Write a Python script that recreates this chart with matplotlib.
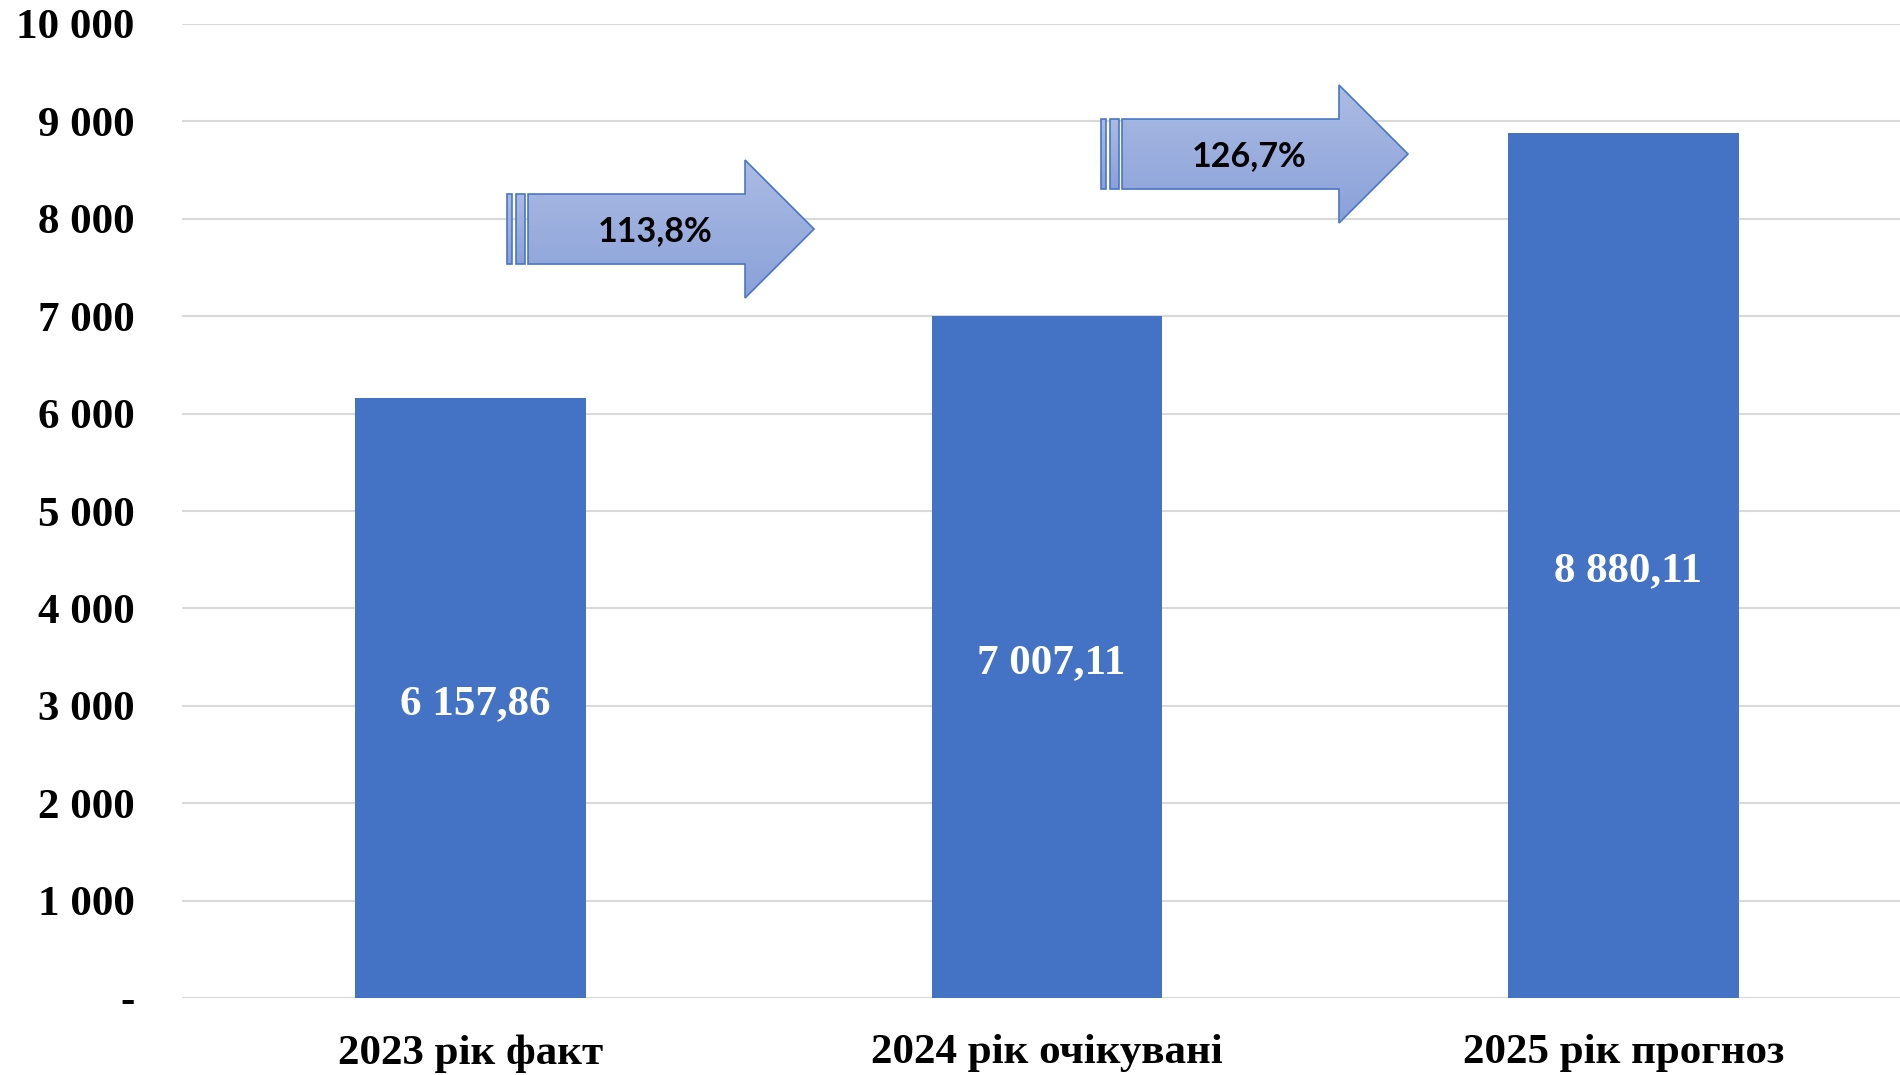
import matplotlib
matplotlib.use("Agg")
import matplotlib.pyplot as plt
import numpy as np
from matplotlib.patches import Polygon, Rectangle
from matplotlib.colors import LinearSegmentedColormap

categories = ["2023 рік факт", "2024 рік очікувані", "2025 рік прогноз"]
values = [6157.86, 7007.11, 8880.11]
value_labels = ["6 157,86", "7 007,11", "8 880,11"]
growth_labels = ["113,8%", "126,7%"]
# arrow tip positions in data coords (x, y)
arrow_tips = [(0.596, 7895), (1.626, 8665)]
yticks = [0, 1000, 2000, 3000, 4000, 5000, 6000, 7000, 8000, 9000, 10000]
ytick_labels = ["-", "1 000", "2 000", "3 000", "4 000", "5 000", "6 000",
                "7 000", "8 000", "9 000", "10 000"]

W, H = 1900, 1075
fig = plt.figure(figsize=(W / 100, H / 100), dpi=100)
ax_l, ax_r, ax_b, ax_t = 182, 1912, 998, 24
ax = fig.add_axes([ax_l / W, (H - ax_b) / H, (ax_r - ax_l) / W, (ax_b - ax_t) / H])

bar_color = "#4472C4"
x = np.arange(len(categories))
ax.bar(x, values, width=0.4, color=bar_color, zorder=2)
ax.set_xlim(-0.5, 2.5)
ax.set_ylim(0, 10000)

ax.set_yticks(yticks)
ax.set_yticklabels(ytick_labels)
ax.set_xticks(x)
ax.set_xticklabels(categories)
serif = "Liberation Serif"
FS = 31
for lbl in ax.get_yticklabels():
    lbl.set_fontfamily(serif); lbl.set_fontweight("bold"); lbl.set_fontsize(FS)
for lbl in ax.get_xticklabels():
    lbl.set_fontfamily(serif); lbl.set_fontweight("bold"); lbl.set_fontsize(FS)
ax.tick_params(axis="y", length=0, pad=34)
ax.tick_params(axis="x", length=0, pad=26)
ax.grid(axis="y", color="#d9d9d9", linewidth=1.5, zorder=0)
ax.set_axisbelow(True)
for s in ax.spines.values():
    s.set_visible(False)

px_x = 3.0 / (ax_r - ax_l)
px_y = 10000.0 / (ax_b - ax_t)

for xi, v, t in zip(x, values, value_labels):
    ax.text(xi + 0.008, v / 2 - 6 * px_y, t, ha="center", va="center", color="white",
            fontfamily=serif, fontweight="bold", fontsize=FS, zorder=3)

# arrows: shape in pixels converted to data units
cmap = LinearSegmentedColormap.from_list("g", ["#8aa1d9", "#abbbe3"])
edge = "#4a76c6"
grad = np.linspace(0, 1, 256).reshape(-1, 1)

for (tx, ty), g in zip(arrow_tips, growth_labels):
    head_len, body_len = 69, 217
    bh, hh = 35, 69
    xb = tx - head_len * px_x
    xl = xb - body_len * px_x
    pts = [(xl, ty + bh * px_y), (xb, ty + bh * px_y), (xb, ty + hh * px_y),
           (tx, ty), (xb, ty - hh * px_y), (xb, ty - bh * px_y),
           (xl, ty - bh * px_y)]
    shapes = [Polygon(pts, closed=True)]
    for (off, w) in [(-3 - 9, 9), (-3 - 9 - 4 - 5, 5)]:
        shapes.append(Rectangle((xl + off * px_x, ty - bh * px_y), w * px_x, 2 * bh * px_y))
    for shp in shapes:
        shp.set_facecolor("none")
        shp.set_edgecolor(edge)
        shp.set_linewidth(1.2)
        shp.set_zorder(5)
        ax.add_patch(shp)
        if isinstance(shp, Rectangle):
            x0, y0 = shp.get_x(), shp.get_y()
            x1, y1 = x0 + shp.get_width(), y0 + shp.get_height()
        else:
            arr = np.array(pts)
            x0, y0 = arr.min(axis=0)
            x1, y1 = arr.max(axis=0)
        im = ax.imshow(grad, cmap=cmap, aspect="auto", extent=(x0, x1, y0, y1),
                       origin="lower", zorder=4, interpolation="bilinear")
        im.set_clip_path(shp)
    ax.text(tx - 159 * px_x, ty - 2 * px_y, g,
            ha="center", va="center", fontfamily="Lato", fontweight="bold",
            fontsize=24.5, color="black", zorder=6)

ax.set_xlim(-0.5, 2.5)
ax.set_ylim(0, 10000)
fig.savefig("out.png", dpi=100)
